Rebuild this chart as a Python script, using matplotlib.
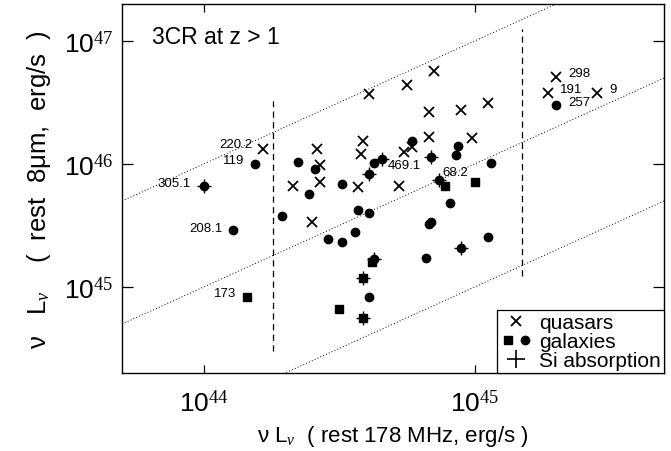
"""3CR at z > 1: mid-IR vs radio luminosity (log-log scatter)."""

import matplotlib
matplotlib.use("Agg")
import matplotlib.pyplot as plt
import numpy as np
from matplotlib.lines import Line2D
from matplotlib.legend_handler import HandlerTuple

plt.rcParams["font.family"] = ["Liberation Sans", "DejaVu Sans"]
plt.rcParams["mathtext.fontset"] = "custom"
plt.rcParams["mathtext.rm"] = "Liberation Serif"
plt.rcParams["mathtext.it"] = "Liberation Serif:italic"
plt.rcParams["mathtext.sf"] = "Liberation Sans"

# log10 luminosities (x: rest 178 MHz, y: rest 8 micron)
quasar_lx = [44.85, 44.75, 44.61, 45.05, 44.95, 44.83, 44.83, 44.99, 44.59, 44.22,
             44.42, 44.58, 44.74, 44.77, 44.43, 44.33, 44.43, 44.57, 44.72, 44.40,
             45.30, 45.27, 45.45]
quasar_ly = [46.76, 46.64, 46.57, 46.50, 46.44, 46.42, 46.22, 46.21, 46.19, 46.12,
             46.12, 46.08, 46.10, 46.14, 45.99, 45.82, 45.85, 45.81, 45.82, 45.53,
             46.71, 46.58, 46.58]

galaxy_circle_lx = [44.19, 44.35, 44.41, 44.39, 44.51, 44.63, 44.77, 44.94, 44.93, 45.06,
                    44.29, 44.57, 44.61, 44.91, 44.83, 44.84, 44.46, 44.51, 44.56, 44.82,
                    45.05, 44.61, 44.11, 45.30]
galaxy_circle_ly = [46.00, 46.02, 45.96, 45.76, 45.84, 46.01, 46.19, 46.15, 46.07, 46.01,
                    45.58, 45.63, 45.60, 45.68, 45.51, 45.53, 45.39, 45.37, 45.45, 45.24,
                    45.41, 44.92, 45.46, 46.48]

galaxy_square_lx = [44.89, 45.00, 44.62, 44.50, 44.16]
galaxy_square_ly = [45.82, 45.85, 45.20, 44.82, 44.92]

# Si absorption: circles and squares underneath the plus
si_circle_lx = [44.00, 44.66, 44.61, 44.84, 44.87, 44.95, 44.63]
si_circle_ly = [45.82, 46.04, 45.92, 46.06, 45.87, 45.32, 45.23]
si_square_lx = [44.59, 44.59]
si_square_ly = [45.07, 44.75]

# source names, the point they belong to and the label offset (points)
names = ["220.2", "119", "305.1", "208.1", "173", "469.1", "68.2", "298", "191", "9", "257"]
name_lx = [44.22, 44.19, 44.00, 44.11, 44.16, 44.66, 44.87, 45.30, 45.27, 45.45, 45.30]
name_ly = [46.12, 46.00, 45.82, 45.46, 44.92, 46.04, 45.87, 46.71, 46.58, 46.58, 46.48]
name_dx = [-8, -8, -9, -8, -8, 4, 2, 9, 9, 9, 9]
name_dy = [3.5, 3, 2.5, 1.5, 3, -4, 6, 3, 3, 3, 2.5]

ratio_lines = [1, 10, 100]          # L_8um = k * L_178MHz
z_cut_lx = [44.257, 45.176]         # vertical dashed lines
z_cut_ly = [(44.48, 46.51), (45.09, 47.10)]

fig = plt.figure(figsize=(6.71, 4.52), dpi=100)
ax = fig.add_axes([122 / 671, 1 - 374 / 452, 542 / 671, 369 / 452])
ax.set_xscale("log")
ax.set_yscale("log")
ax.set_xlim(5e43, 5e45)
ax.set_ylim(2e44, 2e47)

# reference lines of constant ratio
xs = np.array([5e43, 5e45])
for k in ratio_lines:
    ax.plot(xs, k * xs, color="k", lw=0.7, ls=(0, (1, 2.2)), zorder=1)

for lx, (y0, y1) in zip(z_cut_lx, z_cut_ly):
    ax.plot([10 ** lx, 10 ** lx], [10 ** y0, 10 ** y1], color="k", lw=0.9,
            ls=(0, (5, 3.5)), zorder=1)

p = lambda v: 10 ** np.array(v)

ax.plot(p(quasar_lx), p(quasar_ly), "x", color="k", ms=7, mew=1.3, zorder=3)
ax.plot(p(galaxy_circle_lx), p(galaxy_circle_ly), "o", color="k", ms=6, zorder=3)
ax.plot(p(galaxy_square_lx), p(galaxy_square_ly), "s", color="k", ms=5.5, zorder=3)
ax.plot(p(si_circle_lx), p(si_circle_ly), "o", color="k", ms=6, zorder=3)
ax.plot(p(si_square_lx), p(si_square_ly), "s", color="k", ms=5.5, zorder=3)
ax.plot(p(si_circle_lx + si_square_lx), p(si_circle_ly + si_square_ly), "+",
        color="k", ms=10, mew=1.0, zorder=4)

for t, lx, ly, dx, dy in zip(names, name_lx, name_ly, name_dx, name_dy):
    ax.annotate(t, (10 ** lx, 10 ** ly), xytext=(dx, dy), textcoords="offset points",
                ha="right" if dx < 0 else "left", va="center", fontsize=9.5)

ax.text(0.056, 0.913, "3CR at z > 1", transform=ax.transAxes, fontsize=16.5,
        ha="left", va="center")

# axes styling
ax.set_xticks([1e44, 1e45])
ax.set_xticklabels([r"$\mathsf{10}^{\mathrm{44}}$", r"$\mathsf{10}^{\mathrm{45}}$"])
ax.set_yticks([1e45, 1e46, 1e47])
ax.set_yticklabels([r"$\mathsf{10}^{\mathrm{45}}$", r"$\mathsf{10}^{\mathrm{46}}$",
                    r"$\mathsf{10}^{\mathrm{47}}$"])
ax.minorticks_off()
ax.tick_params(axis="both", which="major", direction="in", top=True, right=True,
               labelsize=19, width=0.9)
ax.tick_params(axis="x", length=5.5, pad=12)
ax.tick_params(axis="y", length=8, pad=6)
for s in ax.spines.values():
    s.set_linewidth(1.0)

ax.set_xlabel("ν L$_{\\nu}$  ( rest 178 MHz, erg/s )", fontsize=16, labelpad=5)
ax.set_ylabel("ν   L$_{\\nu}$    (  rest  8μm,  erg/s  )", fontsize=18.5, labelpad=8)

# legend
h_q = Line2D([], [], marker="x", ls="none", color="k", ms=7, mew=1.3)
h_sq = Line2D([], [], marker="s", ls="none", color="k", ms=5.5)
h_ci = Line2D([], [], marker="o", ls="none", color="k", ms=6)
h_si = Line2D([], [], marker="+", ls="none", color="k", ms=13, mew=1.2)
leg = ax.legend([h_q, (h_sq, h_ci), h_si], ["quasars", "galaxies", "Si absorption"],
                handler_map={tuple: HandlerTuple(ndivide=None, pad=0.1)},
                loc="lower right", borderaxespad=0, fancybox=False, framealpha=1,
                edgecolor="k", fontsize=15, handlelength=1.5, handletextpad=0.35,
                labelspacing=0.0, borderpad=0.15)
leg.get_frame().set_linewidth(0.9)

fig.savefig("out.png", dpi=100)
